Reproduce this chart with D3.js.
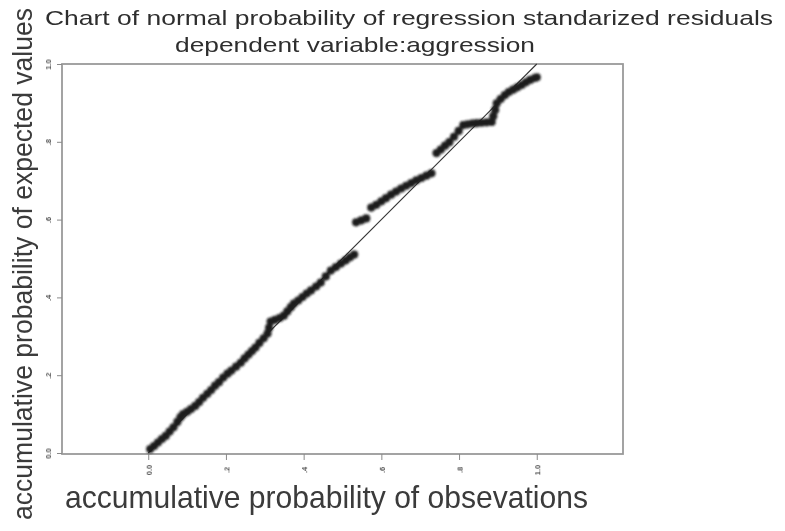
<!DOCTYPE html>
<html>
<head>
<meta charset="utf-8">
<script src="https://cdn.jsdelivr.net/npm/d3@7"></script>
<style>
  html, body { margin: 0; padding: 0; background: #ffffff; }
  svg { display: block; }
</style>
</head>
<body>
<script>
// ---- data ----
const titleLines = ["Chart of normal probability of regression standarized residuals",
                    "dependent variable:aggression"];
const xTitle = "accumulative probability of obsevations";
const yTitle = "accumulative probability of expected values";
const tickValues = [0, 0.2, 0.4, 0.6, 0.8, 1.0];
const tickLabels = ["0.0", ".2", ".4", ".6", ".8", "1.0"];

const observedCum = [
  0.005, 0.015, 0.025, 0.035, 0.045, 0.055, 0.065, 0.075, 0.083, 0.090,
  0.100, 0.110, 0.121, 0.131, 0.141, 0.152, 0.162, 0.172, 0.182, 0.193,
  0.204, 0.214, 0.226, 0.238, 0.248, 0.258, 0.267, 0.276, 0.286, 0.297,
  0.307, 0.311, 0.315, 0.326, 0.338, 0.349, 0.358, 0.367, 0.375, 0.386,
  0.397, 0.408, 0.419, 0.432, 0.444, 0.457, 0.470, 0.483, 0.496, 0.508,
  0.519, 0.530, 0.535, 0.548, 0.561, 0.574, 0.587, 0.600, 0.612, 0.625,
  0.638, 0.651, 0.664, 0.677, 0.690, 0.703, 0.716, 0.729, 0.742, 0.753,
  0.764, 0.775, 0.787, 0.799, 0.811, 0.822, 0.834, 0.845, 0.858, 0.871,
  0.884, 0.888, 0.893, 0.897, 0.907, 0.918, 0.928, 0.939, 0.950, 0.961,
  0.972, 0.983, 0.995, 1.000
];
const expectedCum = [
  0.010, 0.018, 0.027, 0.036, 0.044, 0.055, 0.066, 0.080, 0.092, 0.100,
  0.106, 0.113, 0.121, 0.131, 0.142, 0.152, 0.162, 0.173, 0.182, 0.194,
  0.204, 0.212, 0.222, 0.232, 0.243, 0.253, 0.262, 0.271, 0.283, 0.295,
  0.307, 0.322, 0.338, 0.342, 0.347, 0.353, 0.364, 0.375, 0.384, 0.392,
  0.401, 0.410, 0.418, 0.428, 0.438, 0.454, 0.469, 0.478, 0.487, 0.495,
  0.503, 0.510, 0.593, 0.598, 0.603, 0.631, 0.638, 0.647, 0.655, 0.664,
  0.672, 0.680, 0.687, 0.694, 0.701, 0.707, 0.713, 0.719, 0.771, 0.780,
  0.790, 0.799, 0.813, 0.828, 0.843, 0.845, 0.847, 0.848, 0.849, 0.850,
  0.851, 0.866, 0.882, 0.899, 0.910, 0.920, 0.928, 0.934, 0.940, 0.946,
  0.953, 0.959, 0.964, 0.966
];
const points = observedCum.map((v, i) => ({x: v, y: expectedCum[i]}));

// ---- layout ----
const W = 785, H = 531;
const frame = {left: 62, right: 623, top: 64, bottom: 454};

const svg = d3.select("body").append("svg").attr("width", W).attr("height", H);

const defs = svg.append("defs");
defs.append("filter").attr("id", "soft")
  .append("feGaussianBlur").attr("stdDeviation", 1.1);
defs.append("filter").attr("id", "softText")
  .append("feGaussianBlur").attr("stdDeviation", 0.5);

// x domain extends beyond [0,1] as in the picture
const x = d3.scaleLinear().domain([-0.222, 1.222]).range([frame.left, frame.right]);
const y = d3.scaleLinear().domain([0, 1]).range([frame.bottom - 1, frame.top]);

// frame
svg.append("rect")
  .attr("x", frame.left).attr("y", frame.top)
  .attr("width", frame.right - frame.left).attr("height", frame.bottom - frame.top)
  .attr("fill", "none").attr("stroke", "#9a9a9a").attr("stroke-width", 1.8);

// axes
const xAxis = d3.axisBottom(x).tickValues(tickValues)
  .tickFormat((d, i) => tickLabels[i]).tickSize(6).tickPadding(4);
const yAxis = d3.axisLeft(y).tickValues(tickValues)
  .tickFormat((d, i) => tickLabels[i]).tickSize(5).tickPadding(3);

const gx = svg.append("g").attr("transform", `translate(0,${frame.bottom})`).call(xAxis);
const gy = svg.append("g").attr("transform", `translate(${frame.left},0)`).call(yAxis);
[gx, gy].forEach(g => {
  g.select(".domain").remove();
  g.selectAll(".tick line").attr("stroke", "#8a8a8a").attr("stroke-width", 1);
  g.selectAll(".tick text").attr("fill", "#555").attr("font-family", "Liberation Sans, Arial, sans-serif")
    .attr("font-size", 7.5).attr("font-weight", "bold").attr("filter", "url(#softText)");
});
gx.selectAll(".tick text")
  .attr("transform", "translate(0,16) rotate(-90)").attr("text-anchor", "middle")
  .attr("x", 0).attr("y", 0).attr("dy", "0.35em");
gy.selectAll(".tick text")
  .attr("transform", "translate(-14,0) rotate(-90)").attr("text-anchor", "middle")
  .attr("x", 0).attr("y", 0).attr("dy", "0.35em");

// reference diagonal
svg.append("line")
  .attr("x1", x(0)).attr("y1", y(0)).attr("x2", x(1)).attr("y2", y(1))
  .attr("stroke", "#333").attr("stroke-width", 1.1);

// points
svg.append("g").attr("filter", "url(#soft)")
  .selectAll("circle").data(points).join("circle")
  .attr("cx", d => x(d.x)).attr("cy", d => y(d.y))
  .attr("r", 4.1).attr("fill", "#1c1c1c");

// titles
const font = "Liberation Sans, Arial, sans-serif";
svg.append("text").text(titleLines[0])
  .attr("x", 45).attr("y", 25).attr("font-family", font).attr("font-size", 21)
  .attr("textLength", 728).attr("lengthAdjust", "spacingAndGlyphs")
  .attr("fill", "#2e2e2e").attr("filter", "url(#softText)");
svg.append("text").text(titleLines[1])
  .attr("x", 175).attr("y", 52).attr("font-family", font).attr("font-size", 21)
  .attr("textLength", 360).attr("lengthAdjust", "spacingAndGlyphs")
  .attr("fill", "#2e2e2e").attr("filter", "url(#softText)");

svg.append("text").text(xTitle)
  .attr("x", 65).attr("y", 508).attr("font-family", font).attr("font-size", 32)
  .attr("textLength", 523).attr("lengthAdjust", "spacingAndGlyphs")
  .attr("fill", "#3a3a3a").attr("filter", "url(#softText)");

svg.append("text").text(yTitle)
  .attr("transform", "translate(32,520) rotate(-90)")
  .attr("x", 0).attr("y", 0).attr("font-family", font).attr("font-size", 27)
  .attr("textLength", 512).attr("lengthAdjust", "spacingAndGlyphs")
  .attr("fill", "#3a3a3a").attr("filter", "url(#softText)");
</script>
</body>
</html>
